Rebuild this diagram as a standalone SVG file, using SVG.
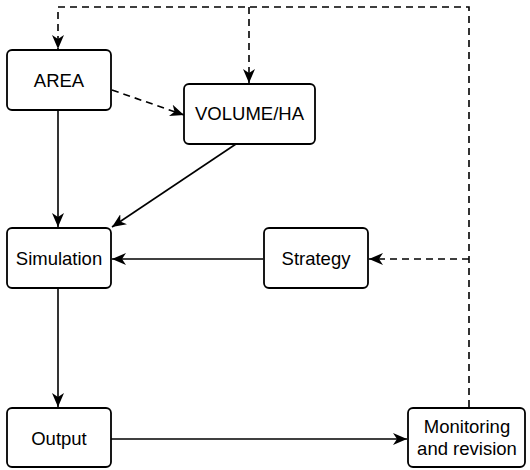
<svg xmlns="http://www.w3.org/2000/svg" width="530" height="470" viewBox="0 0 530 470">
<style>
.box{fill:#fff;stroke:#000;stroke-width:1.8}
.t{font-family:"Liberation Sans",Arial,sans-serif;font-size:18.5px;text-anchor:middle;fill:#000}
.e{fill:none;stroke:#000;stroke-width:1.6}
.d{stroke-dasharray:7,5}
</style>
<defs>
<marker id="ah" viewBox="0 0 14 12" refX="14" refY="6" markerWidth="14" markerHeight="12" markerUnits="userSpaceOnUse" orient="auto">
<path d="M0,0 L14,6 L0,12 L4,6 Z" fill="#000"/>
</marker>
</defs>
<g id="connectors">
<path class="e d" d="M469,407 V7 H58 V49" marker-end="url(#ah)"/>
<path class="e d" d="M249,7 V83" marker-end="url(#ah)"/>
<path class="e d" d="M469,259 H369" marker-end="url(#ah)"/>
<path class="e d" d="M112,90 L184,115" marker-end="url(#ah)"/>
<path class="e" d="M58,110 V227" marker-end="url(#ah)"/>
<path class="e" d="M236,144 L112,227" marker-end="url(#ah)"/>
<path class="e" d="M263,259 H112" marker-end="url(#ah)"/>
<path class="e" d="M58,289 V407" marker-end="url(#ah)"/>
<path class="e" d="M111,439 H407" marker-end="url(#ah)"/>
</g>
<g id="area"><rect class="box" x="7" y="50" width="104" height="60" rx="5"/><text class="t" x="59" y="87">AREA</text></g>
<g id="volume"><rect class="box" x="184" y="84" width="131" height="60" rx="5"/><text class="t" x="249.5" y="120">VOLUME/HA</text></g>
<g id="simulation"><rect class="box" x="7" y="228" width="104" height="60" rx="5"/><text class="t" x="59" y="265">Simulation</text></g>
<g id="strategy"><rect class="box" x="264" y="228" width="104" height="60" rx="5"/><text class="t" x="316" y="265">Strategy</text></g>
<g id="output"><rect class="box" x="7" y="408" width="104" height="59" rx="5"/><text class="t" x="59" y="445">Output</text></g>
<g id="monitoring"><rect class="box" x="408" y="408" width="117" height="59" rx="5"/><text class="t" x="467" y="433">Monitoring</text><text class="t" x="467" y="455">and revision</text></g>
</svg>
